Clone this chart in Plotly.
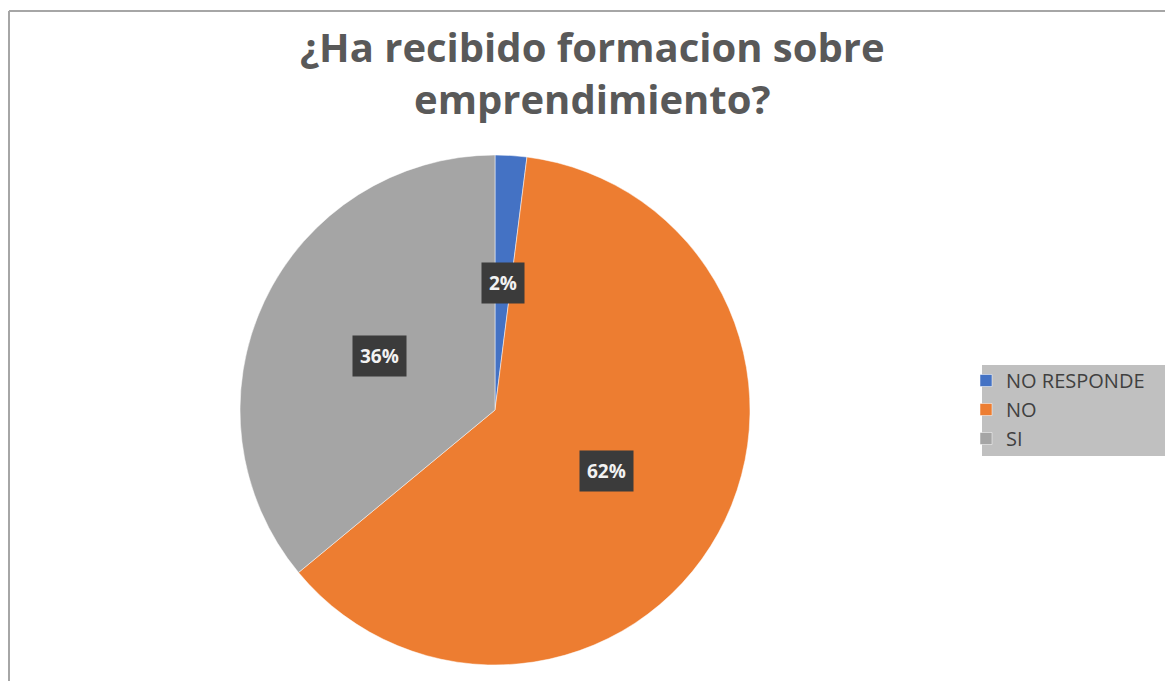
import math
import plotly.graph_objects as go

labels = ["NO RESPONDE", "NO", "SI"]
values = [2, 62, 36]
colors = ["#4472C4", "#ED7D31", "#A5A5A5"]
title_text = "<b>¿Ha recibido formacion sobre<br>emprendimiento?</b>"

W, H = 1165, 681
cx, cy, R = 495, 410, 255

fig = go.Figure(go.Pie(
    labels=labels, values=values, sort=False, direction="clockwise", rotation=0,
    marker=dict(colors=colors, line=dict(color="white", width=0.5)),
    textinfo="none", hoverinfo="label+percent",
    domain=dict(x=[(cx - R) / W, (cx + R) / W], y=[1 - (cy + R) / H, 1 - (cy - R) / H]),
))

total = sum(values)
cum = 0
annotations = []
for v in values:
    mid = (cum + v / 2) / total * 2 * math.pi
    cum += v
    px = cx + 0.5 * R * math.sin(mid)
    py = cy - 0.5 * R * math.cos(mid)
    annotations.append(dict(
        x=px / W, y=1 - py / H, xref="paper", yref="paper", showarrow=False,
        xanchor="center", yanchor="middle",
        text=f"<b>{round(v / total * 100)}%</b>",
        font=dict(family="Open Sans", size=19, color="#f2f2f2"),
        bgcolor="#3b3b3b", borderpad=7,
    ))

annotations.append(dict(
    x=592 / W, y=1 - 73 / H, xref="paper", yref="paper", showarrow=False,
    xanchor="center", yanchor="middle",
    text=title_text, align="center",
    font=dict(family="Open Sans", size=40, color="#595959"),
))

fig.update_layout(
    width=W, height=H, margin=dict(l=0, r=0, t=0, b=0),
    paper_bgcolor="white", plot_bgcolor="white",
    annotations=annotations,
    showlegend=True,
    legend=dict(
        x=966 / W, y=1 - 361 / H, xanchor="left", yanchor="top",
        bgcolor="rgba(0,0,0,0)", font=dict(family="Open Sans", size=20, color="#404040"),
        itemwidth=30, tracegroupgap=0,
    ),
    shapes=[
        dict(type="rect", xref="paper", yref="paper", x0=982 / W, x1=1.0,
             y0=1 - 456 / H, y1=1 - 365 / H, fillcolor="#C0C0C0", line=dict(width=0), layer="below"),
        dict(type="line", xref="paper", yref="paper", x0=9 / W, x1=9 / W, y0=0, y1=1 - 11 / H,
             line=dict(color="#A6A6A6", width=2)),
        dict(type="line", xref="paper", yref="paper", x0=9 / W, x1=1, y0=1 - 11 / H, y1=1 - 11 / H,
             line=dict(color="#A6A6A6", width=2)),
    ],
)

fig.write_html("out.html", config={"displayModeBar": False},
               post_script="document.body.style.margin='0px';")
